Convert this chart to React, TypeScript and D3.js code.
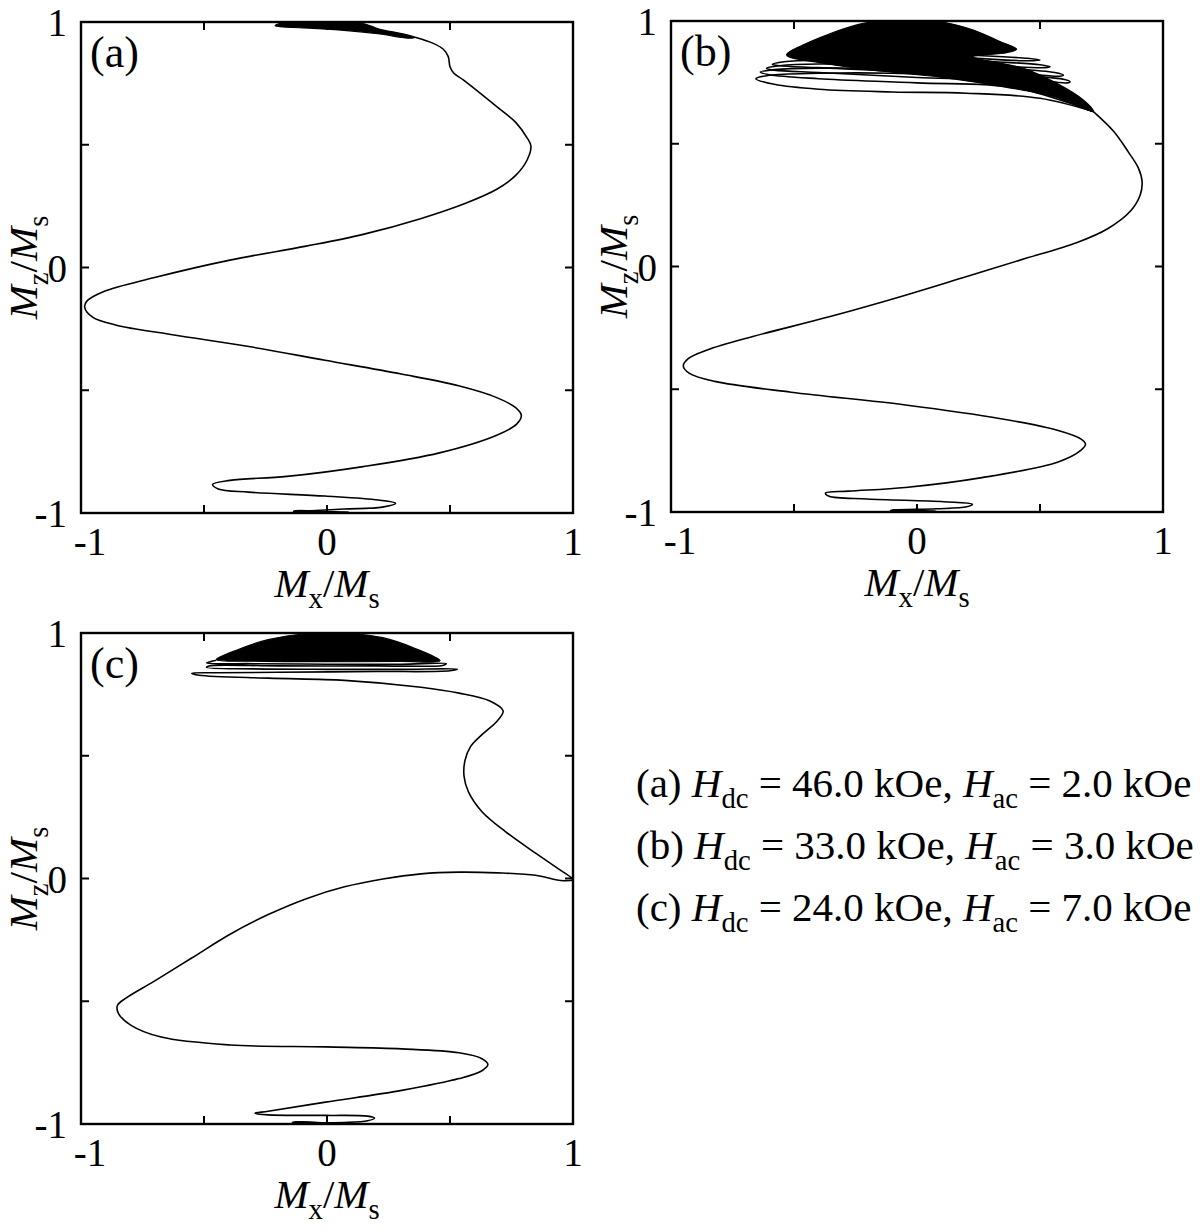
import { useEffect, useRef } from "react";
import * as d3 from "d3";

type Pt = [number, number];

// axis ticks (same on every panel, both axes)
const tickValues = [-1, -0.5, 0, 0.5, 1];
const labelledTicks = [-1, 0, 1];

// legend
const panelNames = ["a", "b", "c"];
const hdcValues = [46.0, 33.0, 24.0];
const hacValues = [2.0, 3.0, 7.0];

// ---- panel (a): Mx, Mz ----
const blobTopA: Pt[] = [
  [-0.211, 0.985], [-0.18, 0.997], [0.134, 0.997], [0.215, 0.970], [0.297, 0.954],
  [0.358, 0.938], [0.337, 0.934], [0.215, 0.951], [0.08, 0.965], [-0.057, 0.974], [-0.191, 0.981],
];
const blobBottomA: Pt[] = [
  [-0.135, -0.992], [0.0, -0.994], [0.09, -0.996], [0.0, -0.999], [-0.135, -0.997],
];
const lineA: Pt[] = [
  [0.358, 0.938], [0.432, 0.913], [0.473, 0.889], [0.493, 0.859], [0.5, 0.818], [0.516, 0.791],
  [0.554, 0.764], [0.690, 0.655], [0.767, 0.591], [0.814, 0.527], [0.829, 0.495], [0.814, 0.439],
  [0.767, 0.375], [0.690, 0.319], [0.566, 0.263], [0.380, 0.199], [0.147, 0.135], [-0.085, 0.087],
  [-0.395, 0.030], [-0.705, -0.042], [-0.907, -0.098], [-0.977, -0.138], [-0.985, -0.162],
  [-0.953, -0.202], [-0.860, -0.234], [-0.628, -0.274], [-0.318, -0.322], [-0.008, -0.378],
  [0.302, -0.434], [0.535, -0.482], [0.690, -0.530], [0.767, -0.571], [0.790, -0.603],
  [0.771, -0.638], [0.690, -0.683], [0.457, -0.755], [0.147, -0.811], [-0.163, -0.851],
  [-0.395, -0.867], [-0.465, -0.883], [-0.442, -0.902], [-0.318, -0.915], [-0.008, -0.931],
  [0.209, -0.947], [0.279, -0.960], [0.225, -0.976], [0.070, -0.984], [-0.085, -0.992], [-0.13, -0.994],
];

// ---- panel (b) ----
const blobTopB: Pt[] = [
  [-0.53, 0.862], [-0.448, 0.909], [-0.367, 0.943], [-0.245, 0.984], [-0.177, 0.997], [0.095, 0.997],
  [0.229, 0.963], [0.337, 0.916], [0.405, 0.885], [0.364, 0.871], [0.229, 0.855], [0.432, 0.807],
  [0.568, 0.746], [0.676, 0.678], [0.717, 0.631], [0.568, 0.689], [0.365, 0.730], [0.093, 0.771],
  [-0.178, 0.800], [-0.381, 0.828],
];
const loopsB: Pt[][] = [
  [[0.717, 0.631], [0.5, 0.685], [0.2, 0.706], [-0.1, 0.711], [-0.4, 0.722], [-0.58, 0.742], [-0.655, 0.765],
   [-0.6, 0.779], [-0.4, 0.787], [-0.1, 0.787], [0.2, 0.772], [0.5, 0.72], [0.717, 0.631]],
  [[0.717, 0.631], [0.4, 0.728], [0.0, 0.748], [-0.4, 0.765], [-0.6, 0.781], [-0.637, 0.792],
   [-0.58, 0.802], [-0.4, 0.808], [0.0, 0.800], [0.4, 0.75], [0.717, 0.631]],
  [[0.717, 0.631], [0.4, 0.745], [0.0, 0.77], [-0.4, 0.79], [-0.58, 0.80], [-0.612, 0.808],
   [-0.56, 0.818], [-0.4, 0.825], [0.0, 0.815], [0.4, 0.765], [0.717, 0.631]],
  [[0.717, 0.631], [0.4, 0.76], [0.0, 0.79], [-0.4, 0.81], [-0.56, 0.818], [-0.588, 0.823],
   [-0.54, 0.834], [-0.4, 0.84], [0.0, 0.83], [0.4, 0.78], [0.717, 0.631]],
  [[-0.2, 0.87], [0.2, 0.85], [0.45, 0.838], [0.5, 0.841], [0.45, 0.848], [0.2, 0.862], [-0.2, 0.88]],
  [[-0.1, 0.85], [0.3, 0.82], [0.52, 0.81], [0.541, 0.814], [0.5, 0.822], [0.3, 0.835], [-0.1, 0.86]],
  [[0.0, 0.82], [0.4, 0.79], [0.58, 0.775], [0.595, 0.78], [0.56, 0.79], [0.35, 0.81], [0.0, 0.835]],
  [[0.1, 0.79], [0.45, 0.765], [0.61, 0.748], [0.622, 0.753], [0.6, 0.762], [0.4, 0.78], [0.1, 0.80]],
  [[0.2, 0.77], [0.55, 0.72], [0.645, 0.675], [0.649, 0.69], [0.6, 0.72], [0.4, 0.76], [0.2, 0.785]],
];
const blobBottomB: Pt[] = [
  [-0.10, -0.992], [0.0, -0.994], [0.078, -0.996], [0.0, -0.999], [-0.10, -0.997],
];
const lineB: Pt[] = [
  [0.717, 0.631], [0.80, 0.550], [0.860, 0.465], [0.900, 0.401], [0.915, 0.346], [0.907, 0.290],
  [0.868, 0.226], [0.775, 0.154], [0.651, 0.098], [0.419, 0.026], [0.186, -0.046], [-0.047, -0.117],
  [-0.357, -0.205], [-0.667, -0.285], [-0.853, -0.340], [-0.930, -0.375], [-0.950, -0.405],
  [-0.925, -0.435], [-0.822, -0.468], [-0.512, -0.512], [-0.047, -0.564], [0.341, -0.620],
  [0.574, -0.668], [0.667, -0.703], [0.685, -0.724], [0.667, -0.748], [0.574, -0.796],
  [0.264, -0.860], [-0.047, -0.900], [-0.279, -0.915], [-0.372, -0.923], [-0.357, -0.936],
  [-0.202, -0.947], [0.109, -0.958], [0.225, -0.968], [0.202, -0.979], [0.078, -0.987],
  [-0.093, -0.992], [-0.11, -0.995],
];

// ---- panel (c) ----
const blobTopC: Pt[] = [
  [-0.449, 0.892], [-0.363, 0.932], [-0.239, 0.973], [-0.084, 0.997], [0.102, 0.997], [0.227, 0.981],
  [0.351, 0.940], [0.46, 0.887], [0.3, 0.884], [0.0, 0.883], [-0.3, 0.885],
];
const blobBottomC: Pt[] = [
  [-0.14, -0.993], [-0.02, -0.994], [0.04, -0.997], [-0.02, -0.999], [-0.14, -0.997],
];
const lineC: Pt[] = [
  [-0.45, 0.889], [-0.49, 0.878], [-0.3, 0.875], [0.0, 0.873], [0.3, 0.873], [0.485, 0.875],
  [0.47, 0.868], [0.2, 0.866], [-0.2, 0.866], [-0.48, 0.866], [-0.49, 0.86], [-0.3, 0.854],
  [0.0, 0.852], [0.3, 0.852], [0.53, 0.853], [0.5, 0.846], [0.2, 0.843], [-0.2, 0.840],
  [-0.45, 0.838], [-0.55, 0.836], [-0.52, 0.828], [-0.239, 0.816], [0.071, 0.807], [0.382, 0.779],
  [0.537, 0.755], [0.662, 0.723], [0.716, 0.683], [0.693, 0.643], [0.630, 0.586], [0.584, 0.538],
  [0.561, 0.481], [0.557, 0.417], [0.575, 0.353], [0.630, 0.272], [0.724, 0.192], [0.848, 0.103],
  [0.941, 0.039], [0.99, 0.006], [1.0, -0.004], [0.95, -0.008], [0.848, 0.013], [0.693, 0.023],
  [0.537, 0.026], [0.382, 0.019], [0.227, -0.002], [0.071, -0.034], [-0.084, -0.082],
  [-0.239, -0.147], [-0.394, -0.227], [-0.550, -0.324], [-0.705, -0.420], [-0.814, -0.485],
  [-0.852, -0.517], [-0.848, -0.549], [-0.798, -0.597], [-0.674, -0.646], [-0.394, -0.678],
  [-0.006, -0.686], [0.304, -0.694], [0.537, -0.710], [0.630, -0.734], [0.654, -0.758],
  [0.630, -0.783], [0.537, -0.815], [0.304, -0.863], [-0.006, -0.911], [-0.239, -0.948],
  [-0.293, -0.956], [-0.239, -0.963], [-0.006, -0.965], [0.165, -0.968], [0.193, -0.976],
  [0.165, -0.987], [0.071, -0.994], [-0.084, -0.995], [-0.13, -0.992],
];

const panelData = [
  { name: "a", blobs: [blobTopA, blobBottomA], lines: [lineA] },
  { name: "b", blobs: [blobTopB, blobBottomB], lines: [...loopsB, lineB] },
  { name: "c", blobs: [blobTopC, blobBottomC], lines: [lineC] },
];

// layout
const FONT = "'Liberation Serif', 'Times New Roman', Times, serif";
const W = 492;
const H = 491;
const origins: Record<string, [number, number]> = { a: [81, 22], b: [671, 21], c: [81, 633] };

type Seg = { t: string; it?: boolean; sub?: boolean };

function rich(parent: any, x: number, y: number, segs: Seg[], size: number, anchor = "start") {
  const text = parent.append("text")
    .attr("x", x).attr("y", y)
    .attr("font-family", FONT).attr("font-size", size)
    .attr("text-anchor", anchor)
    .style("white-space", "pre");
  let down = false;
  const shift = size * 0.27;
  segs.forEach((s) => {
    const sp = text.append("tspan").text(s.t);
    if (s.it) sp.attr("font-style", "italic");
    if (s.sub) {
      sp.attr("font-size", size * 0.7);
      if (!down) { sp.attr("dy", shift); down = true; }
    } else if (down) {
      sp.attr("dy", -shift); down = false;
    }
  });
  return text;
}

export default function App() {
  const ref = useRef<SVGSVGElement>(null);

  useEffect(() => {
    const svg = d3.select(ref.current);
    svg.selectAll("*").remove();

    panelData.forEach((p) => {
      const [left, top] = origins[p.name];
      const x = d3.scaleLinear().domain([-1, 1]).range([left, left + W]);
      const y = d3.scaleLinear().domain([-1, 1]).range([top + H, top]);
      const g = svg.append("g");

      const clipId = "clip-" + p.name;
      svg.append("clipPath").attr("id", clipId)
        .append("rect").attr("x", left).attr("y", top).attr("width", W).attr("height", H);

      const plot = g.append("g").attr("clip-path", `url(#${clipId})`);
      const blobGen = d3.line<Pt>().x((d) => x(d[0])).y((d) => y(d[1]))
        .curve(d3.curveCatmullRomClosed.alpha(0.5));
      const lineGen = d3.line<Pt>().x((d) => x(d[0])).y((d) => y(d[1]))
        .curve(d3.curveCatmullRom.alpha(0.5));

      p.blobs.forEach((b) => {
        plot.append("path").attr("d", blobGen(b)).attr("fill", "#000")
          .attr("stroke", "#000").attr("stroke-width", 1.2);
      });
      p.lines.forEach((l) => {
        plot.append("path").attr("d", lineGen(l)).attr("fill", "none")
          .attr("stroke", "#000").attr("stroke-width", 1.6).attr("stroke-linejoin", "round");
      });

      // frame
      g.append("rect").attr("x", left).attr("y", top).attr("width", W).attr("height", H)
        .attr("fill", "none").attr("stroke", "#000").attr("stroke-width", 2.4);

      // inner ticks on all four sides
      const tl = 8;
      tickValues.filter((v) => Math.abs(v) < 1).forEach((v) => {
        const segs = [
          [x(v), top + H, x(v), top + H - tl],
          [x(v), top, x(v), top + tl],
          [left, y(v), left + tl, y(v)],
          [left + W, y(v), left + W - tl, y(v)],
        ];
        segs.forEach((s) => {
          g.append("line").attr("x1", s[0]).attr("y1", s[1]).attr("x2", s[2]).attr("y2", s[3])
            .attr("stroke", "#000").attr("stroke-width", 2);
        });
      });

      // tick labels
      labelledTicks.forEach((v) => {
        const label = v === 0 ? "0" : v < 0 ? "-1" : "1";
        g.append("text").attr("x", x(v) + (v < 0 ? 9 : 0)).attr("y", top + H + 42)
          .attr("text-anchor", "middle").attr("font-family", FONT).attr("font-size", 39)
          .text(label);
        g.append("text").attr("x", left - 14).attr("y", y(v) + 14)
          .attr("text-anchor", "end").attr("font-family", FONT).attr("font-size", 39)
          .text(label);
      });

      // axis titles
      rich(g, left + W / 2, top + H + 84,
        [{ t: "M", it: true }, { t: "x", sub: true }, { t: "/" }, { t: "M", it: true }, { t: "s", sub: true }],
        41, "middle");
      const yt = g.append("g").attr("transform", `translate(${left - 44},${top + H / 2}) rotate(-90)`);
      rich(yt, 0, 0,
        [{ t: "M", it: true }, { t: "z", sub: true }, { t: "/" }, { t: "M", it: true }, { t: "s", sub: true }],
        41, "middle");

      // panel label
      g.append("text").attr("x", left + 9).attr("y", top + 45)
        .attr("font-family", FONT).attr("font-size", 44).text(`(${p.name})`);
    });

    // legend
    const lg = svg.append("g");
    panelNames.forEach((n, i) => {
      rich(lg, 636, 797 + i * 62, [
        { t: `(${n}) ` },
        { t: "H", it: true }, { t: "dc", sub: true },
        { t: ` = ${hdcValues[i].toFixed(1)} kOe, ` },
        { t: "H", it: true }, { t: "ac", sub: true },
        { t: ` = ${hacValues[i].toFixed(1)} kOe` },
      ], 41);
    });
  }, []);

  return (
    <svg ref={ref} width={1200} height={1232}
      style={{ position: "absolute", left: 0, top: 0, background: "#fff" }} />
  );
}
